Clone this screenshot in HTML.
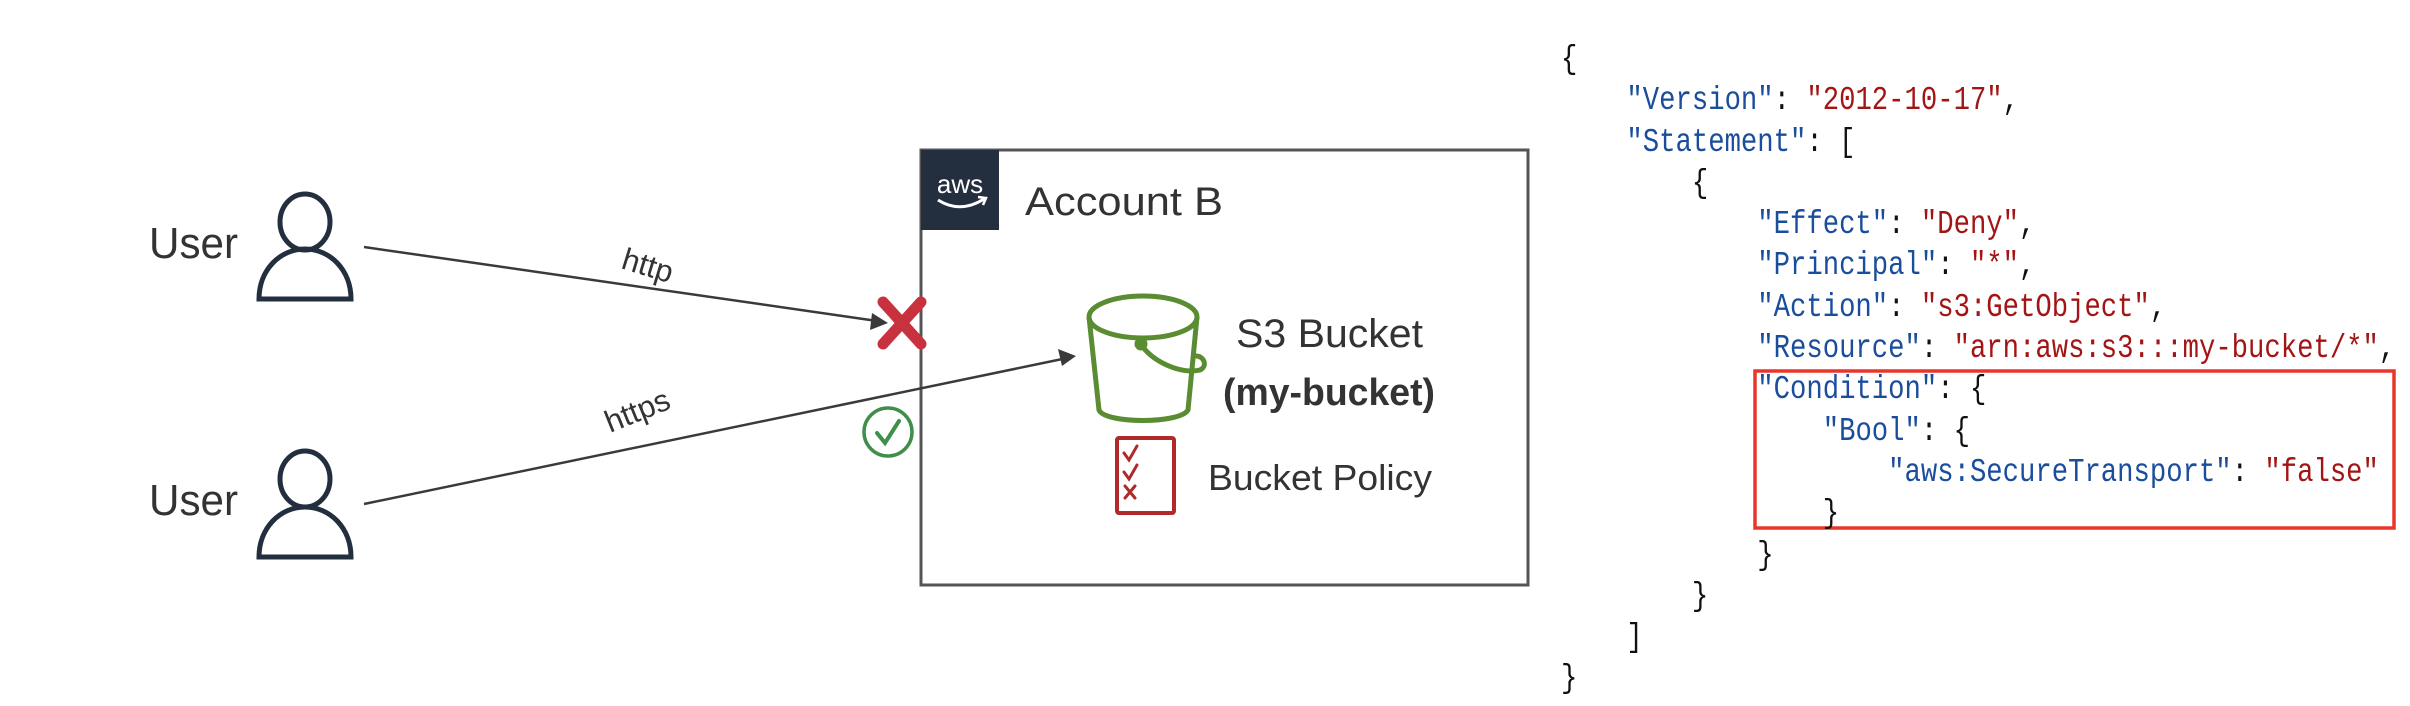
<!DOCTYPE html>
<html><head><meta charset="utf-8"><style>
html,body{margin:0;padding:0;background:#fff;}
body{width:2410px;height:706px;position:relative;overflow:hidden;}
.code{position:absolute;font-family:"Liberation Mono","DejaVu Sans Mono",monospace;font-size:33px;white-space:pre;color:#111;line-height:41.3px;left:1561px;top:39px;transform:scaleX(0.826);transform-origin:0 0;}
.k{color:#1a4d9c}.s{color:#a31515}
</style></head><body>
<svg width="2410" height="706" style="position:absolute;left:0;top:0" font-family="Liberation Sans, sans-serif">
<rect x="921" y="150" width="607" height="435" fill="none" stroke="#555" stroke-width="3"/>
<rect x="921" y="150" width="78" height="80" fill="#232f3e"/>
<text x="960" y="193" fill="#fff" font-size="26" text-anchor="middle">aws</text>
<path d="M938,200 Q960,214 984,199" stroke="#fff" stroke-width="3" fill="none"/>
<path d="M978,197 L986,198 L983,205" stroke="#fff" stroke-width="2.5" fill="none"/>
<text x="1025" y="215" font-size="40" fill="#333" textLength="198" lengthAdjust="spacingAndGlyphs">Account B</text>
<g fill="none" stroke="#232f3e" stroke-width="5">
<ellipse cx="305" cy="222" rx="25" ry="28"/>
<path d="M259,299 C259,270 280,249 305,249 C330,249 351,270 351,299 Z"/>
<ellipse cx="305" cy="479" rx="25" ry="28"/>
<path d="M259,557 C259,528 280,507 305,507 C330,507 351,528 351,557 Z"/>
</g>
<text x="149" y="258" font-size="44" fill="#333" textLength="89" lengthAdjust="spacingAndGlyphs">User</text>
<text x="149" y="515" font-size="44" fill="#333" textLength="89" lengthAdjust="spacingAndGlyphs">User</text>
<line x1="364" y1="247" x2="884" y2="322" stroke="#3a3a3a" stroke-width="2.5"/>
<path d="M888,323 L872,313 L870,330 Z" fill="#3a3a3a"/>
<line x1="364" y1="504" x2="1072" y2="357" stroke="#3a3a3a" stroke-width="2.5"/>
<path d="M1076,356 L1058,349 L1062,366 Z" fill="#3a3a3a"/>
<text x="0" y="0" font-size="31" fill="#333" transform="translate(620,268) rotate(17)">http</text>
<text x="0" y="0" font-size="31" fill="#333" transform="translate(610,433) rotate(-22)">https</text>
<g stroke="#c8323f" stroke-width="11" stroke-linecap="round">
<line x1="883" y1="302" x2="921" y2="344"/><line x1="921" y1="302" x2="883" y2="344"/></g>
<circle cx="888" cy="432" r="24" fill="none" stroke="#3f8f4a" stroke-width="3.5"/>
<path d="M877,433 L885,443 L899,421" fill="none" stroke="#3f8f4a" stroke-width="4" stroke-linecap="round"/>
<g fill="none" stroke="#5a8c32" stroke-width="5">
<ellipse cx="1143" cy="317" rx="54" ry="21"/>
<path d="M1089,317 L1099,410 C1105,424 1180,424 1188,410 L1197,317"/>
<path d="M1141,344 C1150,360 1180,375 1200,370 C1208,366 1204,356 1196,356" stroke-linecap="round"/>
<circle cx="1141" cy="344" r="4" fill="#5a8c32"/>
</g>
<text x="1236" y="347" font-size="40" fill="#333" textLength="187" lengthAdjust="spacingAndGlyphs">S3 Bucket</text>
<text x="1223" y="405" font-size="38" font-weight="bold" fill="#333" textLength="212" lengthAdjust="spacingAndGlyphs">(my-bucket)</text>
<rect x="1117" y="438" width="57" height="75" fill="none" stroke="#b02a2a" stroke-width="4" rx="2"/>
<g fill="none" stroke="#b02a2a" stroke-width="3" stroke-linecap="round">
<path d="M1124,453 L1129,460 L1137,446"/><path d="M1124,472 L1129,479 L1137,465"/>
<path d="M1125,486 L1135,498 M1135,486 L1125,498"/></g>
<text x="1208" y="490" font-size="36" fill="#333" textLength="224" lengthAdjust="spacingAndGlyphs">Bucket Policy</text>
<rect x="1755" y="371" width="639" height="157" fill="none" stroke="#e8372a" stroke-width="3.5"/>
</svg>
<div class="code">{
    <span class="k">"Version"</span>: <span class="s">"2012-10-17"</span>,
    <span class="k">"Statement"</span>: [
        {
            <span class="k">"Effect"</span>: <span class="s">"Deny"</span>,
            <span class="k">"Principal"</span>: <span class="s">"*"</span>,
            <span class="k">"Action"</span>: <span class="s">"s3:GetObject"</span>,
            <span class="k">"Resource"</span>: <span class="s">"arn:aws:s3:::my-bucket/*"</span>,
            <span class="k">"Condition"</span>: {
                <span class="k">"Bool"</span>: {
                    <span class="k">"aws:SecureTransport"</span>: <span class="s">"false"</span>
                }
            }
        }
    ]
}</div>
</body></html>
